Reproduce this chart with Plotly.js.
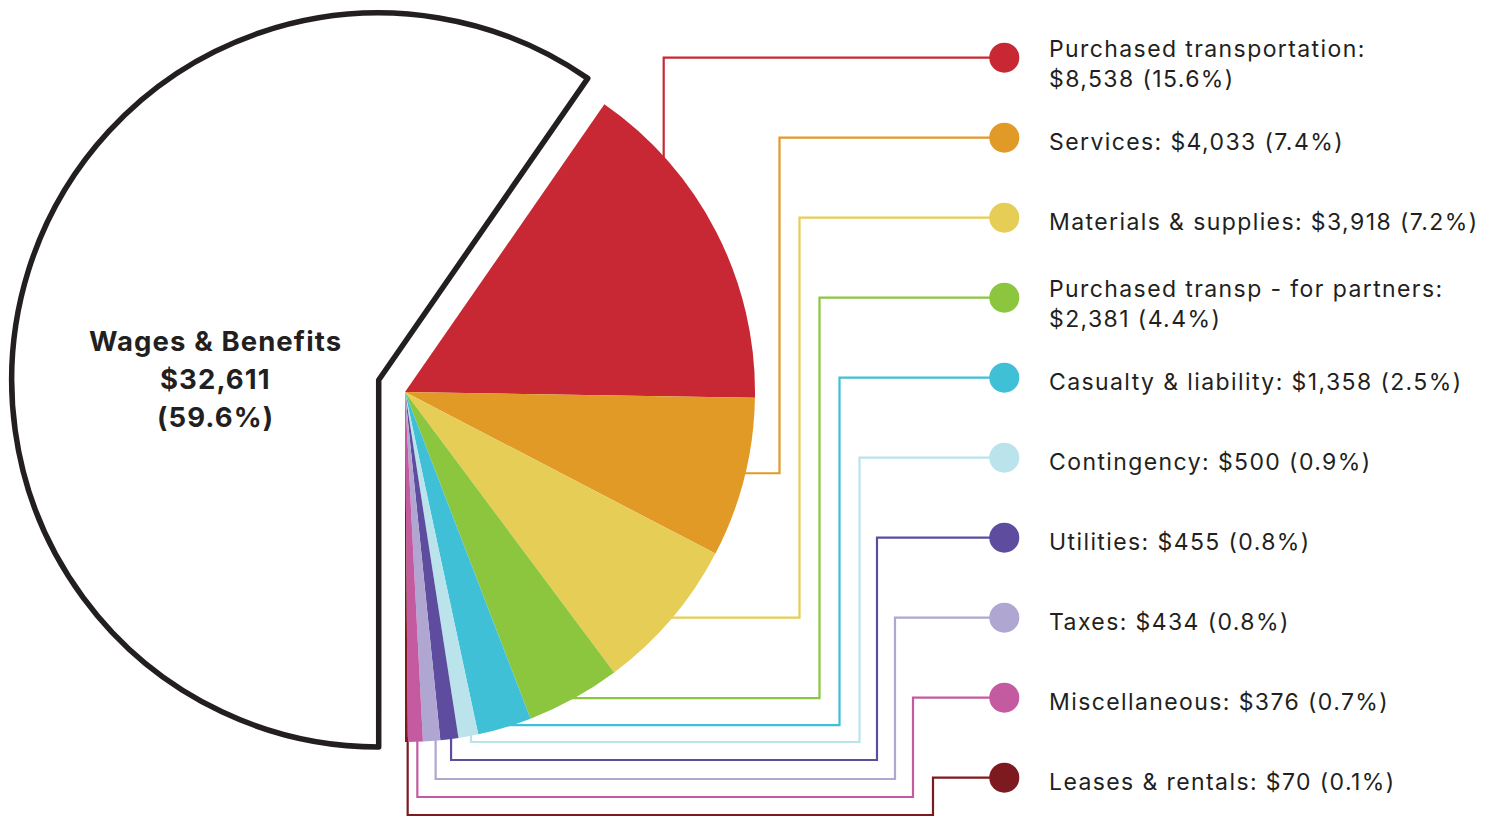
<!DOCTYPE html>
<html>
<head>
<meta charset="utf-8">
<script src="https://cdn.plot.ly/plotly-3.0.1.min.js"></script>
<style>
  html, body { margin: 0; padding: 0; background: #ffffff; }
  #chart { width: 1497px; height: 816px; }
</style>
</head>
<body>
<div id="chart"></div>
<script>
// ---------------- DATA ----------------
// Pie order (clockwise): cost categories, then Wages & Benefits last
const categories = [
  "Purchased transportation",
  "Services",
  "Materials & supplies",
  "Purchased transp - for partners",
  "Casualty & liability",
  "Contingency",
  "Utilities",
  "Taxes",
  "Miscellaneous",
  "Leases & rentals",
  "Wages & Benefits"
];
const amounts = [8538, 4033, 3918, 2381, 1358, 500, 455, 434, 376, 70, 32611];

// ---------------- STYLE / LAYOUT ----------------
const sliceColors = [
  "#C72833", "#E19A26", "#E6CD55", "#8CC63F", "#40C0D6",
  "#BAE3EC", "#5E4C9E", "#B0A6D2", "#C45BA0", "#7C1A20"
];
const inkColor = "#231f20";
const W = 1497, H = 816;
const PIE = { cx: 405, cy: 392, r: 350 };          // coloured pie
const OUTER = { cx: 378.7, cy: 380, r: 367 };       // pulled-out wages slice
const wrapAfterColon = [true, false, false, true, false, false, false, false, false, false];
// leader-line routing (layout only)
const anchorFrac = [0.23, 0.47, 0.49, 0.49, 0.35, 0.37, 0.41, 0.27, 0.37, 0.05];
const routeType  = ["up", "h", "h", "h", "h", "v", "v", "v", "v", "v"];
const elbowX     = [null, 779.5, 799.5, 819.5, 839.5, 859.5, 877, 895, 913, 933];
const runY       = [null, null, null, null, null, 742, 760, 779, 797, 815];
const dotX = 1004.3, dotY0 = 57.7, dotStep = 80, labelX = 1047;

// ---------------- DERIVED ----------------
const total = amounts.reduce((a, b) => a + b, 0);
const nCost = categories.length - 1;
const wagesIdx = nCost;
const costSum = total - amounts[wagesIdx];
const rotation = 180 - 360 * costSum / total;   // small slices end at 6 o'clock
const pct = v => (100 * v / total).toFixed(1);
const money = v => "$" + v.toLocaleString("en-US");

function domainFor(p) {
  return {
    x: [(p.cx - p.r) / W, (p.cx + p.r) / W],
    y: [1 - (p.cy + p.r) / H, 1 - (p.cy - p.r) / H]
  };
}

const traces = [];

// leader lines (drawn under the pies)
let cum = 0;
const deg = Math.PI / 180;
for (let i = 0; i < nCost; i++) {
  const start = rotation + 360 * cum / total;
  const span = 360 * amounts[i] / total;
  cum += amounts[i];
  const th = (start + anchorFrac[i] * span) * deg;
  const ax = PIE.cx + PIE.r * Math.sin(th);
  const ay = PIE.cy - PIE.r * Math.cos(th);
  const dy = dotY0 + i * dotStep;
  let xs, ys;
  if (routeType[i] === "up") {
    xs = [ax, ax, dotX];
    ys = [ay + 5, dy, dy];
  } else if (routeType[i] === "h") {
    xs = [ax - 5, elbowX[i], elbowX[i], dotX];
    ys = [ay, ay, dy, dy];
  } else {
    xs = [ax, ax, elbowX[i], elbowX[i], dotX];
    ys = [ay - 5, runY[i], runY[i], dy, dy];
  }
  traces.push({
    type: "scatter", mode: "lines", x: xs, y: ys,
    line: { color: sliceColors[i], width: 2.2 },
    hoverinfo: "skip", showlegend: false, cliponaxis: false
  });
}

// legend dots
traces.push({
  type: "scatter", mode: "markers",
  x: categories.slice(0, nCost).map(() => dotX),
  y: categories.slice(0, nCost).map((_, i) => dotY0 + i * dotStep),
  marker: { size: 30, color: sliceColors, line: { width: 0 } },
  hoverinfo: "skip", showlegend: false, cliponaxis: false
});

// white wages slice (bigger, offset)
traces.push({
  type: "pie", labels: categories, values: amounts, sort: false,
  direction: "clockwise", rotation: rotation,
  domain: domainFor(OUTER),
  marker: {
    colors: amounts.map((_, i) => i === wagesIdx ? "#ffffff" : "rgba(0,0,0,0)"),
    line: {
      color: amounts.map(() => inkColor),
      width: amounts.map((_, i) => i === wagesIdx ? 5.5 : 0)
    }
  },
  textinfo: "none", hoverinfo: "none", showlegend: false
});

// coloured cost slices
traces.push({
  type: "pie", labels: categories, values: amounts, sort: false,
  direction: "clockwise", rotation: rotation,
  domain: domainFor(PIE),
  marker: {
    colors: amounts.map((_, i) => i === wagesIdx ? "rgba(0,0,0,0)" : sliceColors[i]),
    line: { width: 0 }
  },
  textinfo: "none", hoverinfo: "none", showlegend: false
});

const font = "Inter, 'Noto Sans', 'DejaVu Sans', sans-serif";
const spaced = (t, px) => '<span style="letter-spacing:' + px + 'px">' + t + '</span>';
const annotations = [];
for (let i = 0; i < nCost; i++) {
  const line2 = money(amounts[i]) + " (" + pct(amounts[i]) + "%)";
  const txt = wrapAfterColon[i]
    ? spaced(categories[i] + ":", 1.4) + "<br>" + spaced(line2, 1.4)
    : spaced(categories[i] + ": " + line2, 1.4);
  annotations.push({
    x: labelX, y: dotY0 + i * dotStep + (wrapAfterColon[i] ? 6.5 : 4.5),
    xref: "x", yref: "y", xanchor: "left", yanchor: "middle",
    text: txt, showarrow: false, align: "left",
    font: { family: font, size: 23, color: inkColor }
  });
}
const centerLines = [
  categories[wagesIdx],
  money(amounts[wagesIdx]),
  "(" + pct(amounts[wagesIdx]) + "%)"
];
const centerY = [340.5, 378.5, 416.5];
centerLines.forEach((t, k) => annotations.push({
  x: 215.5, y: centerY[k], xref: "x", yref: "y",
  xanchor: "center", yanchor: "middle", text: "<b>" + spaced(t, 1.1) + "</b>",
  showarrow: false, font: { family: font, size: 27.5, color: inkColor }
}));

const layout = {
  width: W, height: H,
  margin: { l: 0, r: 0, t: 0, b: 0, pad: 0 },
  paper_bgcolor: "#ffffff", plot_bgcolor: "#ffffff",
  xaxis: { range: [0, W], visible: false, fixedrange: true, domain: [0, 1] },
  yaxis: { range: [H, 0], visible: false, fixedrange: true, domain: [0, 1] },
  showlegend: false,
  annotations: annotations
};

Plotly.newPlot("chart", traces, layout, { displayModeBar: false, staticPlot: true });
</script>
</body>
</html>
